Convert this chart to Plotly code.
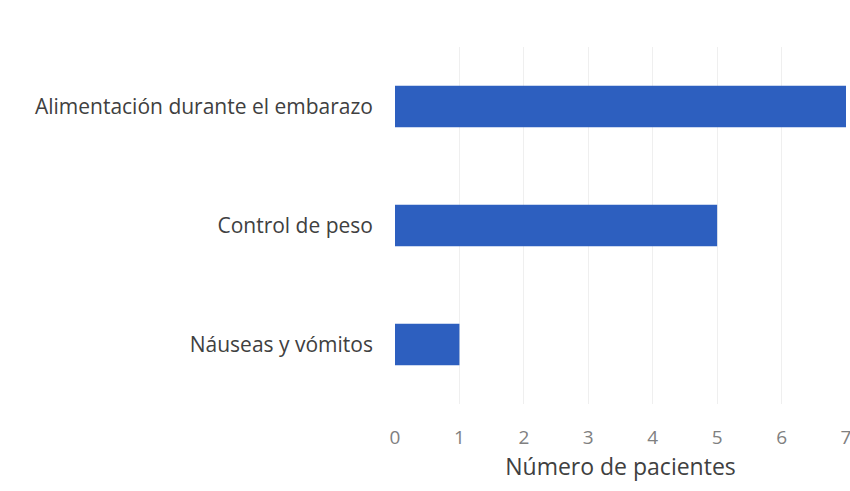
import plotly.graph_objects as go

categories = ["Náuseas y vómitos", "Control de peso", "Alimentación durante el embarazo"]
patients = [1, 5, 7]
tick_values = [0, 1, 2, 3, 4, 5, 6, 7]

fig = go.Figure(
    go.Bar(
        x=patients,
        y=categories,
        orientation="h",
        width=0.35,
        marker=dict(color="#2d5fbf", line=dict(width=0)),
    )
)

fig.update_layout(
    width=850,
    height=491,
    margin=dict(l=395, r=4, t=47, b=87, autoexpand=False),
    paper_bgcolor="white",
    plot_bgcolor="white",
    font=dict(family="Open Sans, sans-serif", size=16, color="#404040"),
    showlegend=False,
)

fig.update_xaxes(
    range=[0, 7],
    tickvals=tick_values,
    showgrid=True,
    gridcolor="#efefef",
    gridwidth=1,
    zeroline=False,
    showline=False,
    ticks="",
    automargin=False,
    ticklabelstandoff=20,
    ticklabeloverflow="allow",
    tickfont=dict(size=19, color="#808080"),
    title=dict(text="Número de pacientes", font=dict(size=23, color="#404040"), standoff=6),
)

fig.update_yaxes(
    range=[-0.5, 2.5],
    showgrid=False,
    zeroline=False,
    showline=False,
    ticks="",
    automargin=False,
    ticklabelstandoff=21,
    tickfont=dict(size=21, color="#404040"),
)

fig.write_html("out.html")
